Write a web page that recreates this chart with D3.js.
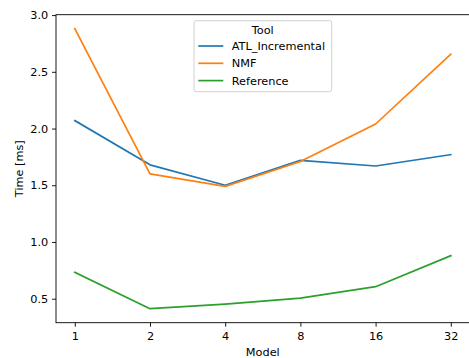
<!DOCTYPE html>
<html>
<head>
<meta charset="utf-8">
<script src="https://cdn.jsdelivr.net/npm/d3@7"></script>
<style>
  body { margin: 0; background: #fff; }
  text { font-family: "DejaVu Sans", sans-serif; }
</style>
</head>
<body>
<div id="chart"></div>
<script>
// data
const models = ["1", "2", "4", "8", "16", "32"];
const atlIncremental = [2.07, 1.68, 1.50, 1.72, 1.67, 1.77];
const nmf = [2.88, 1.60, 1.49, 1.71, 2.04, 2.655];
const reference = [0.733, 0.412, 0.453, 0.506, 0.606, 0.879];
const yTicks = [0.5, 1.0, 1.5, 2.0, 2.5, 3.0];
const seriesNames = ["ATL_Incremental", "NMF", "Reference"];
const colors = ["#1f77b4", "#ff7f0e", "#2ca02c"];

const fs = 11.3;  // font size px
const W = 469, H = 358;
const margin = {top: 14.7, right: -0.6, bottom: 35.3, left: 56};
const width = W - margin.left - margin.right,
      height = H - margin.top - margin.bottom;

const svg = d3.select("#chart").append("svg")
    .attr("width", W)
    .attr("height", H);

const g = svg.append("g")
    .attr("transform", "translate(" + margin.left + "," + margin.top + ")");

const x = d3.scalePoint().domain(models).range([0, width]).padding(0.25);

// matplotlib style 5% margins
const allVals = atlIncremental.concat(nmf, reference);
const lo = d3.min(allVals), hi = d3.max(allVals), pad = (hi - lo) * 0.05;
const y = d3.scaleLinear().domain([lo - pad, hi + pad]).range([height, 0]);

const line = d3.line()
    .x((d, i) => x(models[i]))
    .y(d => y(d));

[atlIncremental, nmf, reference].forEach(function (vals, i) {
    g.append("path")
        .attr("d", line(vals))
        .attr("fill", "none")
        .attr("stroke", colors[i])
        .attr("stroke-width", 1.7)
        .attr("stroke-linejoin", "round")
        .attr("stroke-linecap", "square");
});

// axes
const xAxis = g.append("g")
    .attr("transform", "translate(0," + height + ")")
    .call(d3.axisBottom(x).tickSize(4).tickPadding(5.3));
const yAxis = g.append("g")
    .call(d3.axisLeft(y).tickValues(yTicks).tickFormat(d3.format(".1f")).tickSize(4).tickPadding(3.7));

[xAxis, yAxis].forEach(function (a) {
    a.select(".domain").remove();
    a.selectAll(".tick line").attr("stroke", "#000").attr("stroke-width", 0.9);
    a.selectAll(".tick text").attr("font-size", fs).attr("fill", "#000")
        .attr("font-family", "DejaVu Sans, sans-serif");
});

// spines
g.append("rect")
    .attr("x", 0).attr("y", 0)
    .attr("width", width).attr("height", height)
    .attr("fill", "none")
    .attr("stroke", "#000")
    .attr("stroke-width", 0.9);

// axis labels
svg.append("text")
    .attr("x", margin.left + width / 2)
    .attr("y", 355.5)
    .attr("text-anchor", "middle")
    .attr("font-size", fs)
    .text("Model");

svg.append("text")
    .attr("transform", "translate(22.5," + (margin.top + height / 2) + ") rotate(-90)")
    .attr("text-anchor", "middle")
    .attr("font-size", fs)
    .text("Time [ms]");

// legend
const lg = svg.append("g").attr("transform", "translate(194,20.7)");
lg.append("rect")
    .attr("width", 137.7).attr("height", 71)
    .attr("rx", 2).attr("ry", 2)
    .attr("fill", "#fff").attr("fill-opacity", 0.8)
    .attr("stroke", "#cccccc").attr("stroke-width", 0.9);
lg.append("text")
    .attr("x", 68.8).attr("y", 13.3)
    .attr("text-anchor", "middle")
    .attr("font-size", fs)
    .text("Tool");
seriesNames.forEach(function (name, i) {
    const yy = 25.3 + i * 17.3;
    lg.append("line")
        .attr("x1", 4.3).attr("x2", 29.3)
        .attr("y1", yy).attr("y2", yy)
        .attr("stroke", colors[i]).attr("stroke-width", 1.7);
    lg.append("text")
        .attr("x", 37.7).attr("y", yy + 4.2)
        .attr("font-size", fs)
        .text(name);
});
</script>
</body>
</html>
